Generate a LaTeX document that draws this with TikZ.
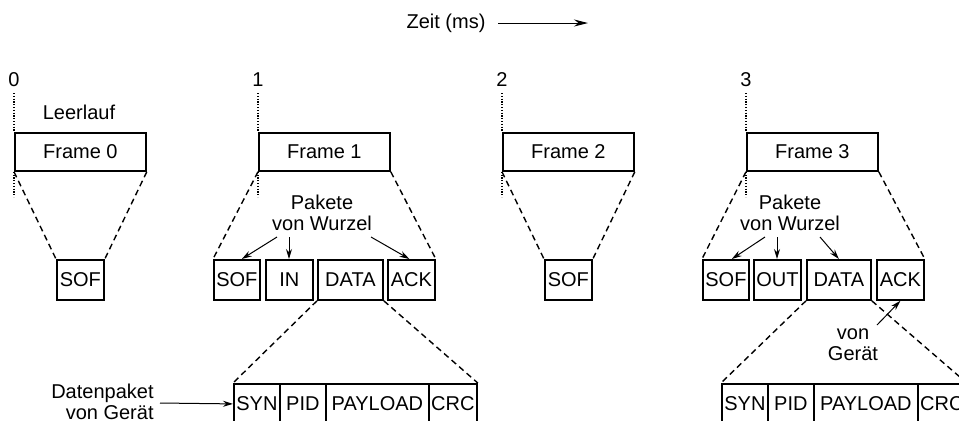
\documentclass[tikz,border=0pt]{standalone}
\usepackage{fontspec}
\setmainfont{Liberation Sans}
\usetikzlibrary{arrows.meta,calc}
\begin{document}
\begin{tikzpicture}[x=0.5pt,y=-0.5pt,
  every node/.style={font=\fontsize{10}{10.5}\selectfont, inner sep=0pt},
  box/.style={draw, line width=0.9pt, anchor=north west, minimum height=20pt},
  fbox/.style={draw, line width=0.9pt, anchor=north west, minimum height=19pt, minimum width=65.5pt},
  dsh/.style={line width=0.7pt, dash pattern=on 3pt off 2pt},
  dtt/.style={line width=0.7pt, dash pattern=on 0.6pt off 0.8pt},
  arr/.style={line width=0.5pt, -{Stealth[length=5pt,width=3pt]}}]
\useasboundingbox (0,0) rectangle (959,420);
% time axis
\node (zeit) at (446,23) {Zeit (ms)};
\coordinate (za) at (498,23);
\coordinate (zb) at (588,23);
\draw[arr, -{Stealth[length=7pt,width=3.5pt]}] (za) -- (zb);
% tick labels
\node (t0) at (14,80) {0};
\node (t1) at (258,80) {1};
\node (t2) at (502,80) {2};
\node (t3) at (746,80) {3};
\node (leer) at (79,112) {Leerlauf};
% frames
\node[fbox] (f0) at (14,132) {Frame 0};
\node[fbox] (f1) at (258,132) {Frame 1};
\node[fbox] (f2) at (502,132) {Frame 2};
\node[fbox] (f3) at (746,132) {Frame 3};
% dotted markers
\coordinate (d0a) at (14,93);
\coordinate (d1a) at (258,93);
\coordinate (d2a) at (502,93);
\coordinate (d3a) at (746,93);
\coordinate (d0b) at (14,197);
\coordinate (d1b) at (258,197);
\coordinate (d2b) at (502,197);
\coordinate (d3b) at (746,197);
\draw[dtt] (d0a) -- (f0.north west);
\draw[dtt] (f0.south west) -- (d0b);
\draw[dtt] (d1a) -- (f1.north west);
\draw[dtt] (f1.south west) -- (d1b);
\draw[dtt] (d2a) -- (f2.north west);
\draw[dtt] (f2.south west) -- (d2b);
\draw[dtt] (d3a) -- (f3.north west);
\draw[dtt] (f3.south west) -- (d3b);
% frame 0 expansion
\node[box, minimum width=23.5pt] (s0) at (56,259) {SOF};
\draw[dsh] (f0.south west) -- (s0.north west);
\draw[dsh] (f0.south east) -- (s0.north east);
% frame 2 expansion
\node[box, minimum width=23.5pt] (s2) at (544,259) {SOF};
\draw[dsh] (f2.south west) -- (s2.north west);
\draw[dsh] (f2.south east) -- (s2.north east);
% frame 1 expansion
\node[box, minimum width=23pt] (s1) at (213,259) {SOF};
\node[box, minimum width=23.5pt] (in1) at (265,259) {IN};
\node[box, minimum width=32.5pt] (da1) at (317,259) {DATA};
\node[box, minimum width=23.5pt] (ak1) at (387,259) {ACK};
\draw[dsh] (f1.south west) -- (s1.north west);
\draw[dsh] (f1.south east) -- (ak1.north east);
\node[align=center] (pk1) at (322,213) {Pakete\\von Wurzel};
\coordinate (p1a) at (277,237);
\coordinate (p1b) at (289,237);
\coordinate (p1c) at (371,237);
\draw[arr] (p1a) -- ($(s1.north east)+(-19,0)$);
\draw[arr] (p1b) -- (in1.north -| p1b);
\draw[arr] (p1c) -- ($(ak1.north)+(-2,0)$);
% frame 3 expansion
\node[box, minimum width=23pt] (s3) at (702,259) {SOF};
\node[box, minimum width=23.5pt] (ou3) at (753,259) {OUT};
\node[box, minimum width=32pt] (da3) at (806,259) {DATA};
\node[box, minimum width=23.5pt] (ak3) at (876,259) {ACK};
\draw[dsh] (f3.south west) -- (s3.north west);
\draw[dsh] (f3.south east) -- (ak3.north east);
\node[align=center] (pk3) at (790,213) {Pakete\\von Wurzel};
\coordinate (p3a) at (765,237);
\coordinate (p3b) at (777,237);
\coordinate (p3c) at (820,237);
\draw[arr] (p3a) -- ($(s3.north east)+(-18,0)$);
\draw[arr] (p3b) -- (ou3.north -| p3b);
\draw[arr] (p3c) -- (da3.north);
\node[align=center] (vg) at (853,345) {von\\Gerät};
\coordinate (vga) at (877,325);
\draw[arr] (vga) -- (ak3.south);
% data packet frame 1
\node[box, minimum width=23pt] (sy1) at (233,383) {SYN};
\node[box, minimum width=23pt] (pi1) at (279,383) {PID};
\node[box, minimum width=51.5pt] (pl1) at (325,383) {PAYLOAD};
\node[box, minimum width=24pt] (cr1) at (428,383) {CRC};
\draw[dsh] (da1.south west) -- (sy1.north west);
\draw[dsh] (da1.south east) -- (cr1.north east);
\node[align=right, anchor=east] (dp) at (154,402) {Datenpaket\\von Gerät};
\coordinate (dpa) at (160,403);
\draw[arr] (dpa) -- (sy1.west);
% data packet frame 3
\node[box, minimum width=23pt] (sy3) at (721,383) {SYN};
\node[box, minimum width=23pt] (pi3) at (767,383) {PID};
\node[box, minimum width=52pt] (pl3) at (813,383) {PAYLOAD};
\node[box, minimum width=24pt] (cr3) at (917,383) {CRC};
\draw[dsh] (da3.south west) -- (sy3.north west);
\draw[dsh] (da3.south east) -- (cr3.north east);
\end{tikzpicture}
\end{document}
